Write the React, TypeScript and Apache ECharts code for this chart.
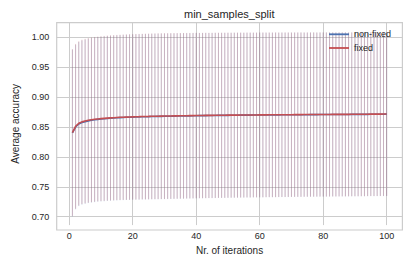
import React, { useEffect, useRef } from "react";
import * as echarts from "echarts";

const titleText = "min_samples_split";
const xName = "Nr. of iterations";
const yName = "Average accuracy";
const seriesNames = ["non-fixed", "fixed"];

const xTicks = [0, 20, 40, 60, 80, 100];
const yTicks = [0.7, 0.75, 0.8, 0.85, 0.9, 0.95, 1.0];

const iterations = Array.from({ length: 100 }, (_, i) => i + 1);

const meanNonFixed = [
  0.8400, 0.8500, 0.8550, 0.8575, 0.8590, 0.8603, 0.8613, 0.8621, 0.8628, 0.8633,
  0.8638, 0.8643, 0.8647, 0.8651, 0.8654, 0.8657, 0.8660, 0.8662, 0.8664, 0.8666,
  0.8668, 0.8669, 0.8671, 0.8672, 0.8673, 0.8675, 0.8676, 0.8677, 0.8678, 0.8679,
  0.8680, 0.8681, 0.8682, 0.8683, 0.8684, 0.8685, 0.8686, 0.8687, 0.8688, 0.8689,
  0.8690, 0.8690, 0.8691, 0.8692, 0.8692, 0.8693, 0.8694, 0.8694, 0.8695, 0.8695,
  0.8696, 0.8697, 0.8697, 0.8698, 0.8698, 0.8699, 0.8699, 0.8700, 0.8700, 0.8701,
  0.8701, 0.8702, 0.8702, 0.8702, 0.8703, 0.8703, 0.8704, 0.8704, 0.8704, 0.8705,
  0.8705, 0.8705, 0.8706, 0.8706, 0.8706, 0.8707, 0.8707, 0.8707, 0.8708, 0.8708,
  0.8708, 0.8709, 0.8709, 0.8709, 0.8710, 0.8710, 0.8710, 0.8710, 0.8711, 0.8711,
  0.8711, 0.8712, 0.8712, 0.8712, 0.8713, 0.8713, 0.8713, 0.8714, 0.8714, 0.8715,
];

const meanFixed = [
  0.8408, 0.8512, 0.8562, 0.8586, 0.8600, 0.8612, 0.8621, 0.8629, 0.8635, 0.8640,
  0.8645, 0.8649, 0.8653, 0.8656, 0.8659, 0.8662, 0.8664, 0.8666, 0.8668, 0.8670,
  0.8672, 0.8673, 0.8675, 0.8676, 0.8677, 0.8679, 0.8680, 0.8681, 0.8682, 0.8683,
  0.8684, 0.8685, 0.8686, 0.8687, 0.8688, 0.8688, 0.8689, 0.8690, 0.8691, 0.8692,
  0.8692, 0.8693, 0.8694, 0.8694, 0.8695, 0.8696, 0.8696, 0.8697, 0.8697, 0.8698,
  0.8698, 0.8699, 0.8699, 0.8700, 0.8700, 0.8701, 0.8701, 0.8702, 0.8702, 0.8703,
  0.8703, 0.8703, 0.8704, 0.8704, 0.8705, 0.8705, 0.8705, 0.8706, 0.8706, 0.8706,
  0.8707, 0.8707, 0.8707, 0.8708, 0.8708, 0.8708, 0.8709, 0.8709, 0.8709, 0.8710,
  0.8710, 0.8710, 0.8711, 0.8711, 0.8711, 0.8712, 0.8712, 0.8712, 0.8713, 0.8713,
  0.8713, 0.8714, 0.8714, 0.8714, 0.8715, 0.8715, 0.8716, 0.8716, 0.8717, 0.8718,
];

const stdNonFixed = [
  0.1395, 0.1376, 0.1372, 0.1373, 0.1374, 0.1375, 0.1376, 0.1377, 0.1377, 0.1378,
  0.1379, 0.1379, 0.1380, 0.1380, 0.1381, 0.1381, 0.1382, 0.1382, 0.1383, 0.1383,
  0.1383, 0.1384, 0.1384, 0.1384, 0.1384, 0.1385, 0.1385, 0.1385, 0.1385, 0.1385,
  0.1385, 0.1385, 0.1384, 0.1384, 0.1384, 0.1384, 0.1383, 0.1383, 0.1383, 0.1383,
  0.1382, 0.1382, 0.1382, 0.1381, 0.1381, 0.1381, 0.1380, 0.1380, 0.1380, 0.1380,
  0.1379, 0.1379, 0.1379, 0.1378, 0.1378, 0.1378, 0.1378, 0.1377, 0.1377, 0.1377,
  0.1377, 0.1376, 0.1376, 0.1376, 0.1376, 0.1375, 0.1375, 0.1375, 0.1375, 0.1374,
  0.1374, 0.1374, 0.1374, 0.1373, 0.1373, 0.1373, 0.1373, 0.1372, 0.1372, 0.1372,
  0.1372, 0.1372, 0.1371, 0.1371, 0.1371, 0.1371, 0.1371, 0.1370, 0.1370, 0.1370,
  0.1370, 0.1370, 0.1370, 0.1369, 0.1369, 0.1369, 0.1369, 0.1369, 0.1369, 0.1369,
];

const stdFixed = [
  0.1394, 0.1377, 0.1373, 0.1374, 0.1375, 0.1376, 0.1377, 0.1377, 0.1378, 0.1378,
  0.1379, 0.1380, 0.1380, 0.1381, 0.1381, 0.1382, 0.1382, 0.1383, 0.1383, 0.1383,
  0.1384, 0.1384, 0.1384, 0.1385, 0.1385, 0.1385, 0.1385, 0.1386, 0.1386, 0.1386,
  0.1385, 0.1385, 0.1385, 0.1385, 0.1384, 0.1384, 0.1384, 0.1383, 0.1383, 0.1383,
  0.1382, 0.1382, 0.1382, 0.1381, 0.1381, 0.1381, 0.1381, 0.1380, 0.1380, 0.1380,
  0.1379, 0.1379, 0.1379, 0.1379, 0.1378, 0.1378, 0.1378, 0.1377, 0.1377, 0.1377,
  0.1377, 0.1376, 0.1376, 0.1376, 0.1376, 0.1375, 0.1375, 0.1375, 0.1375, 0.1374,
  0.1374, 0.1374, 0.1374, 0.1373, 0.1373, 0.1373, 0.1373, 0.1372, 0.1372, 0.1372,
  0.1372, 0.1372, 0.1371, 0.1371, 0.1371, 0.1371, 0.1371, 0.1370, 0.1370, 0.1370,
  0.1370, 0.1370, 0.1370, 0.1369, 0.1369, 0.1369, 0.1369, 0.1369, 0.1369, 0.1369,
];

const FONT = "Liberation Sans, Arial, sans-serif";
const TEXT = "#262626";
const GRID = "#cccccc";

function errData(mean: number[], std: number[]) {
  return iterations.map((x, i) => [x, mean[i] - std[i], mean[i] + std[i]]);
}

function errSeries(name: string, data: number[][], color: string) {
  return {
    name: name + "-err",
    type: "custom",
    silent: true,
    clip: false,
    data,
    encode: { x: 0, y: [1, 2] },
    renderItem: (params: any, api: any) => {
      const x = api.value(0);
      const lo = api.coord([x, api.value(1)]);
      const hi = api.coord([x, api.value(2)]);
      return {
        type: "line",
        shape: { x1: lo[0], y1: lo[1], x2: hi[0], y2: hi[1] },
        style: { stroke: color, lineWidth: 1 },
      };
    },
    z: 1,
  };
}

export default function App() {
  const ref = useRef<HTMLDivElement>(null);
  useEffect(() => {
    if (!ref.current) return;
    const chart = echarts.init(ref.current, null, { renderer: "svg" });
    const left = 56.7;
    const top = 22.7;
    const right = 404 - 402.4;
    const bottom = 260 - 230;
    chart.setOption({
      animation: false,
      backgroundColor: "#ffffff",
      title: {
        text: titleText,
        left: 184,
        top: 8,
        padding: 0,
        textStyle: { fontFamily: FONT, fontSize: 11, fontWeight: "normal", color: TEXT },
      },
      legend: {
        orient: "vertical",
        left: 329,
        top: 28.8,
        padding: 0,
        icon: "rect",
        itemWidth: 20,
        itemHeight: 1.8,
        itemGap: 2.7,
        data: seriesNames,
        textStyle: { fontFamily: FONT, fontSize: 9, lineHeight: 11, color: TEXT },
      },
      grid: { left, right, top, bottom, containLabel: false },
      xAxis: {
        type: "value",
        min: -3.95,
        max: 104.95,
        name: xName,
        nameLocation: "middle",
        nameGap: 19,
        nameTextStyle: { fontFamily: FONT, fontSize: 10, color: TEXT },
        axisLine: { show: false },
        axisTick: { show: false, customValues: xTicks },
        axisLabel: {
          customValues: xTicks,
          margin: 6,
          fontFamily: FONT,
          fontSize: 9,
          color: TEXT,
          formatter: (v: number) => String(Math.round(v)),
        },
        splitLine: { show: true, lineStyle: { color: GRID, width: 1 } },
      },
      yAxis: {
        type: "value",
        min: 0.686,
        max: 1.0244,
        name: yName,
        nameLocation: "middle",
        nameGap: 29,
        nameTextStyle: { fontFamily: FONT, fontSize: 10, color: TEXT },
        axisLine: { show: false },
        axisTick: { show: false, customValues: yTicks },
        axisLabel: {
          customValues: yTicks,
          margin: 7.4,
          fontFamily: FONT,
          fontSize: 9,
          color: TEXT,
          formatter: (v: number) => v.toFixed(2),
        },
        splitLine: { show: true, lineStyle: { color: GRID, width: 1 } },
      },
      graphic: [
        {
          type: "rect",
          silent: true,
          z: 0,
          shape: { x: left, y: top, width: 404 - right - left, height: 260 - bottom - top },
          style: { fill: "none", stroke: GRID, lineWidth: 1.2 },
        },
      ],
      series: [
        errSeries(seriesNames[0], errData(meanNonFixed, stdNonFixed), "rgba(76,114,176,0.3)"),
        errSeries(seriesNames[1], errData(meanFixed, stdFixed), "rgba(196,78,82,0.26)"),
        {
          name: seriesNames[0],
          type: "line",
          symbol: "none",
          data: iterations.map((x, i) => [x, meanNonFixed[i]]),
          lineStyle: { color: "#4c72b0", width: 1.6 },
          itemStyle: { color: "#4c72b0" },
          z: 3,
        },
        {
          name: seriesNames[1],
          type: "line",
          symbol: "none",
          data: iterations.map((x, i) => [x, meanFixed[i]]),
          lineStyle: { color: "#c44e52", width: 1.6 },
          itemStyle: { color: "#c44e52" },
          z: 3,
        },
      ],
    });
    return () => chart.dispose();
  }, []);
  return (
    <div
      ref={ref}
      style={{ position: "fixed", left: 0, top: 0, width: 404, height: 260, background: "#fff" }}
    />
  );
}
